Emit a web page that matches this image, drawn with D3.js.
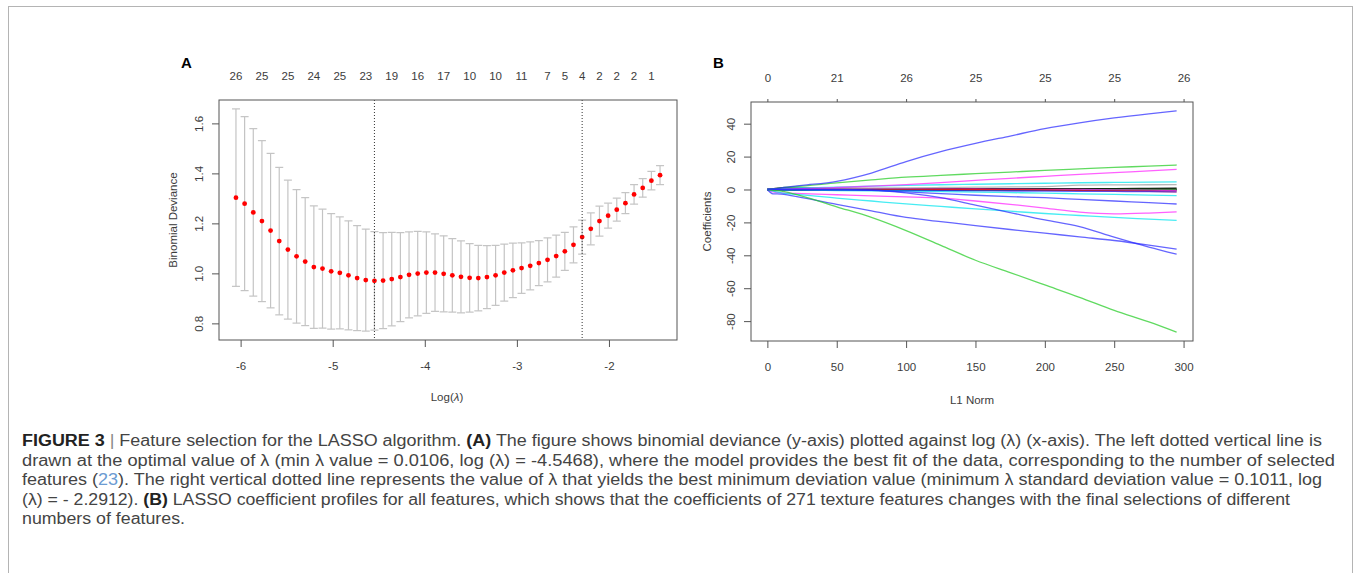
<!DOCTYPE html>
<html>
<head>
<meta charset="utf-8">
<script src="https://cdn.jsdelivr.net/npm/d3@7/dist/d3.min.js"></script>
<style>
  body { margin: 0; background: #fff; }
  svg { display: block; font-family: "Liberation Sans", Arial, sans-serif; }
</style>
</head>
<body>
<svg id="fig" width="1354" height="573"></svg>
<script>
// ---- panel A : cv.glmnet curve ----
const logLambda = [-6.0505, -5.9565, -5.8625, -5.7686, -5.6746, -5.5806, -5.4866, -5.3926, -5.2987, -5.2047,
  -5.1107, -5.0167, -4.9227, -4.8288, -4.7348, -4.6408, -4.5468, -4.4528, -4.3588, -4.2649,
  -4.1709, -4.0769, -3.9829, -3.8889, -3.7950, -3.7010, -3.6070, -3.5130, -3.4190, -3.3251,
  -3.2311, -3.1371, -3.0431, -2.9491, -2.8552, -2.7612, -2.6672, -2.5732, -2.4792, -2.3853,
  -2.2912, -2.1973, -2.1033, -2.0093, -1.9153, -1.8214, -1.7274, -1.6334, -1.5394, -1.4454];
const cvm = [1.303, 1.279, 1.244, 1.209, 1.171, 1.129, 1.095, 1.068, 1.047, 1.025,
  1.019, 1.008, 1.002, 0.992, 0.981, 0.973, 0.970, 0.971, 0.977, 0.985,
  0.994, 0.999, 1.003, 1.003, 0.998, 0.992, 0.986, 0.982, 0.981, 0.985,
  0.992, 1.003, 1.012, 1.021, 1.030, 1.041, 1.054, 1.069, 1.088, 1.114,
  1.145, 1.178, 1.209, 1.231, 1.255, 1.281, 1.316, 1.342, 1.371, 1.393];
const cvsd = [0.355, 0.348, 0.335, 0.322, 0.309, 0.295, 0.278, 0.267, 0.256, 0.245,
  0.238, 0.231, 0.224, 0.218, 0.210, 0.204, 0.197, 0.192, 0.187, 0.178,
  0.172, 0.169, 0.163, 0.155, 0.152, 0.147, 0.144, 0.137, 0.131, 0.126,
  0.120, 0.114, 0.109, 0.101, 0.096, 0.090, 0.088, 0.084, 0.076, 0.072,
  0.068, 0.064, 0.060, 0.050, 0.046, 0.042, 0.039, 0.037, 0.037, 0.038];
const lambdaMin = -4.5468;
const lambda1se = -2.2912;
// number of non-zero coefs printed on top (index into logLambda)
const nzeroIdx = [0, 3, 6, 9, 12, 15, 18, 21, 24, 27, 30, 33, 36, 38, 40, 42, 44, 46, 48];
const nzeroLabel = ['26', '25', '25', '24', '25', '23', '19', '16', '17', '10', '10', '11', '7', '5', '4', '2', '2', '2', '1'];
const xTicksA = [-6, -5, -4, -3, -2];
const yTicksA = [0.8, 1.0, 1.2, 1.4, 1.6];

// ---- panel B : coefficient profiles ----
const l1Norm = [0, 4, 10, 25, 50, 75, 100, 125, 150, 175, 200, 225, 250, 275, 295];
const coefValues = [
  [0, 0, 0, 0, 0.2, 0.3, 0.3, 0.3, 0.3, 0.3, 0.3, 0.3, 0.2, 0.1, 0],
  [0, 0.4, 0.9, 0.7, 0.6, 0.5, 0.5, 0.5, 0.5, 0.5, 0.5, 0.5, 0.5, 0.6, 0.7],
  [0, 0, -0.3, -0.5, -0.5, -0.5, -0.4, -0.3, -0.3, -0.3, -0.2, -0.2, -0.2, -0.2, -0.2],
  [0, 0, 0.1, 0.2, 0.2, 0.2, 0.1, 0, 0, 0, 0, 0, 0, 0, 0],
  [0, 0, 0.2, 0.4, 0.6, 0.6, 0.5, 0.4, 0.3, 0.2, 0.1, 0, -0.2, -0.4, -0.6],
  [0, 0, 0, 0, 0, 0, 0, 0, 0, -0.1, -0.3, -0.6, -0.9, -1.2, -1.5],
  [0, 0, 0, -0.2, -0.4, -0.5, -0.6, -0.7, -0.8, -0.9, -1, -1.1, -1.2, -1.3, -1.4],
  [0, 0, 0, 0.2, 0.5, 0.8, 1, 1.2, 1.4, 1.6, 1.8, 2.6, 2.8, 2.9, 3.0],
  [0, 0.2, 0.5, 1, 1.5, 2, 2.5, 2.9, 3.2, 3.5, 3.8, 4.1, 4.3, 4.5, 4.6],
  [0, 0, -0.2, -0.4, -0.6, -0.8, -1, -1.3, -1.6, -1.9, -2.2, -2.6, -3, -3.4, -3.7],
  [0, 0, 0.2, 0.5, 1.2, 2, 3, 4.2, 5.5, 6.8, 8, 9.2, 10.3, 11.3, 12.2],
  [0, 0.3, 1, 2, 4, 5.8, 7.5, 8.6, 9.6, 10.6, 11.6, 12.5, 13.4, 14.2, 14.9],
  [0, 0, 0, 0, -0.2, -0.5, -1.5, -2.5, -3.5, -4.3, -5, -6, -7, -8, -8.8],
  [0, -1.5, -2, -2.5, -3.2, -3.9, -4.5, -5.3, -7, -9, -11.3, -13.8, -14.8, -14.3, -13.6],
  [0, -1, -2, -3.3, -5.2, -7, -8.8, -10.3, -11.8, -13.2, -14.6, -15.8, -17, -18, -18.8],
  [0, 0, 0, 0, 0, -0.3, -2, -5, -9.5, -14, -18.5, -22.5, -29, -35, -39.3],
  [0, -2.6, -2.8, -5, -9, -13, -17, -19.5, -22, -24.3, -26.5, -28.8, -31, -33.8, -36.3],
  [0, -0.5, -1, -4, -10.5, -17, -25, -34, -43, -50.5, -58, -65.5, -73.5, -80.5, -86.7],
  [0, 0.3, 1, 2.5, 5, 10, 17, 23, 28, 32.5, 37, 40.5, 43.5, 46, 47.8]
];
// R palette index of each profile
const coefCol = [1, 1, 1, 3, 6, 2, 4, 8, 5, 5, 6, 3, 4, 6, 5, 4, 4, 3, 4];
const xTicksB = [0, 50, 100, 150, 200, 250, 300];
const dfTop = ['0', '21', '26', '25', '25', '25', '26'];
const yTicksB = [-80, -60, -40, -20, 0, 20, 40];

// ---- caption ----
const captionLines = [
  [['FIGURE 3', 'b'], [' ', ''], ['|', 'bar'], [' Feature selection for the LASSO algorithm. ', ''], ['(A)', 'b'], [' The figure shows binomial deviance (y-axis) plotted against log (\u03bb) (x-axis). The left dotted vertical line is', '']],
  [['drawn at the optimal value of \u03bb (min \u03bb value = 0.0106, log (\u03bb) = -4.5468), where the model provides the best fit of the data, corresponding to the number of selected', '']],
  [['features (', ''], ['23', 'ref'], ['). The right vertical dotted line represents the value of \u03bb that yields the best minimum deviation value (minimum \u03bb standard deviation value = 0.1011, log', '']],
  [['(\u03bb) = - 2.2912). ', ''], ['(B)', 'b'], [' LASSO coefficient profiles for all features, which shows that the coefficients of 271 texture features changes with the final selections of different', '']],
  [['numbers of features.', '']]
];
// printed width of each caption line
const captionWidth = [1300, 1313, 1300, 1268, 163];

const svg = d3.select('#fig');
const axisCol = '#555';
const labCol = '#3c3c3c';
const palette = {1: '#000000', 2: '#ff0000', 3: '#22cc22', 4: '#2a2aff', 5: '#00e5ee', 6: '#ff22ff', 8: '#9a9a9a'};

// R style 4% range expansion
function rRange(lo, hi) {
  const pad = (hi - lo) * 0.04;
  return [lo - pad, hi + pad];
}

svg.append('rect').attr('x', 8.5).attr('y', 6.5).attr('width', 1344).attr('height', 600)
  .attr('fill', 'none').attr('stroke', '#b4b4b4');

function styleAxis(g) {
  g.select('.domain').remove();
  g.selectAll('.tick line').attr('stroke', axisCol);
  g.selectAll('.tick text').attr('fill', labCol).attr('font-size', 11.5);
}

function leftAxis(g, y, ticks, fmt) {
  g.call(d3.axisLeft(y).tickValues(ticks).tickSize(7).tickFormat(fmt));
  styleAxis(g);
  g.selectAll('.tick text').attr('x', 0).attr('dy', '0.35em')
    .attr('text-anchor', 'middle').attr('transform', 'translate(-20,0) rotate(-90)');
}

function bottomAxis(g, x, ticks) {
  g.call(d3.axisBottom(x).tickValues(ticks).tickSize(7).tickPadding(15).tickFormat(d => String(d)));
  styleAxis(g);
}

/// ============ Panel A ============
{
  const box = {l: 219, r: 677, t: 100, b: 340};
  const x = d3.scaleLinear().domain(rRange(d3.min(logLambda), d3.max(logLambda))).range([box.l, box.r]);
  const lo = cvm.map((m, i) => m - cvsd[i]);
  const up = cvm.map((m, i) => m + cvsd[i]);
  const y = d3.scaleLinear().domain(rRange(d3.min(lo), d3.max(up))).range([box.b, box.t]);

  const g = svg.append('g');
  const bars = g.append('g').attr('stroke', '#c4c4c4').attr('stroke-width', 1.2);
  logLambda.forEach((l, i) => {
    const cx = x(l);
    bars.append('line').attr('x1', cx).attr('x2', cx).attr('y1', y(lo[i])).attr('y2', y(up[i]));
    bars.append('line').attr('x1', cx - 4).attr('x2', cx + 4).attr('y1', y(up[i])).attr('y2', y(up[i]));
    bars.append('line').attr('x1', cx - 4).attr('x2', cx + 4).attr('y1', y(lo[i])).attr('y2', y(lo[i]));
  });

  g.selectAll('circle.cvm').data(cvm).enter().append('circle')
    .attr('cx', (d, i) => x(logLambda[i])).attr('cy', d => y(d)).attr('r', 2.4).attr('fill', '#ff0000');

  [lambdaMin, lambda1se].forEach(v => {
    g.append('line').attr('x1', x(v)).attr('x2', x(v)).attr('y1', box.t).attr('y2', box.b)
      .attr('stroke', '#333').attr('stroke-dasharray', '1,2');
  });

  g.append('rect').attr('x', box.l).attr('y', box.t).attr('width', box.r - box.l).attr('height', box.b - box.t)
    .attr('fill', 'none').attr('stroke', axisCol);

  bottomAxis(g.append('g').attr('transform', `translate(0,${box.b})`), x, xTicksA);
  leftAxis(g.append('g').attr('transform', `translate(${box.l},0)`), y, yTicksA, d3.format('.1f'));

  g.selectAll('text.nz').data(nzeroIdx).enter().append('text')
    .attr('x', d => x(logLambda[d])).attr('y', 76).attr('dy', '0.35em').attr('text-anchor', 'middle')
    .attr('font-size', 11.5).attr('fill', labCol).text((d, i) => nzeroLabel[i]);

  g.append('text').attr('transform', `translate(173,${(box.t + box.b) / 2}) rotate(-90)`)
    .attr('text-anchor', 'middle').attr('dy', '0.35em').attr('font-size', 11.5).attr('fill', labCol)
    .text('Binomial Deviance');
  const xl = g.append('text').attr('x', (box.l + box.r) / 2 - 1).attr('y', 397).attr('dy', '0.35em')
    .attr('text-anchor', 'middle').attr('font-size', 11.5).attr('fill', labCol);
  xl.append('tspan').text('Log(');
  xl.append('tspan').attr('font-style', 'italic').text('\u03bb');
  xl.append('tspan').text(')');

  g.append('text').attr('x', 181).attr('y', 68).attr('font-size', 15).attr('font-weight', 'bold').text('A');
}

/// ============ Panel B ============
{
  const box = {l: 751, r: 1193, t: 102, b: 341};
  const x = d3.scaleLinear().domain(rRange(d3.min(l1Norm), d3.max(l1Norm))).range([box.l, box.r]);
  const all = coefValues.flat();
  const y = d3.scaleLinear().domain(rRange(d3.min(all), d3.max(all))).range([box.b, box.t]);

  const g = svg.append('g');
  const line = d3.line().curve(d3.curveMonotoneX).x((d, i) => x(l1Norm[i])).y(d => y(d));
  g.append('g').selectAll('path').data(coefValues).enter().append('path')
    .attr('d', line).attr('fill', 'none')
    .attr('stroke', (d, i) => palette[coefCol[i]])
    .attr('stroke-opacity', (d, i) => coefCol[i] === 1 ? 0.9 : 0.72)
    .attr('stroke-width', (d, i) => coefCol[i] === 1 ? 1.6 : 1.3);

  g.append('rect').attr('x', box.l).attr('y', box.t).attr('width', box.r - box.l).attr('height', box.b - box.t)
    .attr('fill', 'none').attr('stroke', axisCol);

  bottomAxis(g.append('g').attr('transform', `translate(0,${box.b})`), x, xTicksB);
  leftAxis(g.append('g').attr('transform', `translate(${box.l},0)`), y, yTicksB, d => String(d));

  const top = g.append('g').attr('transform', `translate(0,${box.t})`);
  top.call(d3.axisTop(x).tickValues(xTicksB).tickSize(3).tickPadding(17).tickFormat((d, i) => dfTop[i]));
  styleAxis(top);

  g.append('text').attr('transform', `translate(707,${(box.t + box.b) / 2}) rotate(-90)`)
    .attr('text-anchor', 'middle').attr('dy', '0.35em').attr('font-size', 11.5).attr('fill', labCol)
    .text('Coefficients');
  g.append('text').attr('x', (box.l + box.r) / 2).attr('y', 400).attr('dy', '0.35em')
    .attr('text-anchor', 'middle').attr('font-size', 11.5).attr('fill', labCol).text('L1 Norm');

  g.append('text').attr('x', 713).attr('y', 68).attr('font-size', 15).attr('font-weight', 'bold').text('B');
}

/// ============ caption ============
{
  const cap = svg.append('g').attr('font-size', 16).attr('fill', '#444');
  captionLines.forEach((segs, i) => {
    const t = cap.append('text').attr('x', 22).attr('y', 446 + i * 19.5)
      .attr('textLength', captionWidth[i]).attr('lengthAdjust', 'spacingAndGlyphs');
    segs.forEach(([txt, kind]) => {
      const s = t.append('tspan').text(txt);
      if (kind === 'b') s.attr('font-weight', 'bold').attr('fill', '#222');
      if (kind === 'ref') s.attr('fill', '#6b9bd2');
      if (kind === 'bar') s.attr('fill', '#888');
    });
  });
}
</script>
</body>
</html>
